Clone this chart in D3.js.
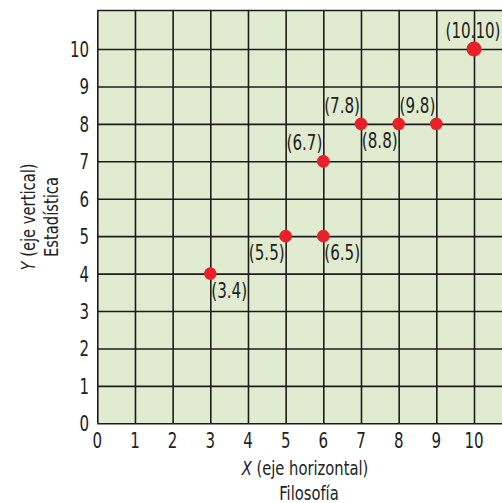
<!DOCTYPE html>
<html>
<head>
<meta charset="utf-8">
<script src="https://cdn.jsdelivr.net/npm/d3@7"></script>
<style>
  body { margin: 0; background: #fff; }
  svg text { font-family: "DejaVu Sans Condensed", "DejaVu Sans", sans-serif; fill: #222; }
</style>
</head>
<body>
<div id="chart"></div>
<script>
// data
var xValues = [3, 5, 6, 6, 7, 8, 9, 10];
var yValues = [4, 5, 5, 7, 8, 8, 8, 10];
var pointLabels = ["(3.4)", "(5.5)", "(6.5)", "(6.7)", "(7.8)", "(8.8)", "(9.8)", "(10.10)"];
// where each label sits relative to its dot: a = above, b = below; s = start, e = end, m = middle
var labelPlace = ["bs", "be", "bs", "ae", "ae", "be", "ae", "am"];
var xTicks = [0, 1, 2, 3, 4, 5, 6, 7, 8, 9, 10];
var yTicks = [0, 1, 2, 3, 4, 5, 6, 7, 8, 9, 10];

var width = 502, height = 503;

var svg = d3.select("#chart")
    .append("svg")
    .attr("width", width)
    .attr("height", height);

var x = d3.scaleLinear().domain([0, 10]).range([97.3, 474]);
var y = d3.scaleLinear().domain([0, 10]).range([423.3, 49]);

var plotLeft = x(0), plotRight = width, plotTop = 10.5, plotBottom = y(0);
var gridColor = "#1c1c1c";

// squeeze text horizontally, the reference uses a condensed face
function squeeze(tx, ty, sx, rot) {
    return "translate(" + tx + "," + ty + ")" + (rot ? " rotate(" + rot + ")" : "") + " scale(" + sx + ",1)";
}

// plot background
svg.append("rect")
    .attr("x", plotLeft)
    .attr("y", plotTop)
    .attr("width", plotRight - plotLeft)
    .attr("height", plotBottom - plotTop)
    .attr("fill", "#e1ebcf");

// vertical gridlines
svg.append("g")
    .attr("class", "grid")
    .attr("transform", "translate(0," + plotBottom + ")")
    .call(d3.axisBottom(x).tickValues(xTicks).tickSize(-(plotBottom - plotTop)).tickFormat(""))
    .call(function (g) { g.select(".domain").remove(); })
    .selectAll("line")
    .attr("stroke", gridColor)
    .attr("stroke-width", 1.6);

// horizontal gridlines
svg.append("g")
    .attr("class", "grid")
    .attr("transform", "translate(" + plotLeft + ",0)")
    .call(d3.axisLeft(y).tickValues(yTicks).tickSize(-(plotRight - plotLeft)).tickFormat(""))
    .call(function (g) { g.select(".domain").remove(); })
    .selectAll("line")
    .attr("stroke", gridColor)
    .attr("stroke-width", 1.6);

// top border
svg.append("line")
    .attr("x1", plotLeft).attr("x2", plotRight)
    .attr("y1", plotTop).attr("y2", plotTop)
    .attr("stroke", gridColor)
    .attr("stroke-width", 1.6);

// tick labels
svg.append("g")
    .selectAll("text")
    .data(xTicks)
    .enter().append("text")
    .attr("transform", function (d) { return squeeze(x(d), 448, 0.76); })
    .attr("text-anchor", "middle")
    .attr("font-size", 22)
    .text(function (d) { return d; });

svg.append("g")
    .selectAll("text")
    .data(yTicks)
    .enter().append("text")
    .attr("transform", function (d) { return squeeze(89, y(d) + 8, 0.76); })
    .attr("text-anchor", "end")
    .attr("font-size", 22)
    .text(function (d) { return d; });

// axis titles
var xTitle = svg.append("text")
    .attr("transform", squeeze(305, 475, 0.82))
    .attr("text-anchor", "middle")
    .attr("font-size", 20);
xTitle.append("tspan").attr("font-style", "italic").text("X");
xTitle.append("tspan").text(" (eje horizontal)");

svg.append("text")
    .attr("transform", squeeze(309, 500, 0.82))
    .attr("text-anchor", "middle")
    .attr("font-size", 20)
    .text("Filosofía");

var yTitle = svg.append("text")
    .attr("transform", squeeze(35, 217, 0.82, -90))
    .attr("text-anchor", "middle")
    .attr("font-size", 20);
yTitle.append("tspan").attr("font-style", "italic").text("Y");
yTitle.append("tspan").text(" (eje vertical)");

svg.append("text")
    .attr("transform", squeeze(58, 217, 0.82, -90))
    .attr("text-anchor", "middle")
    .attr("font-size", 20)
    .text("Estadística");

// points
var points = xValues.map(function (d, i) {
    return {x: d, y: yValues[i], label: pointLabels[i], place: labelPlace[i]};
});

svg.append("g")
    .selectAll("circle")
    .data(points)
    .enter().append("circle")
    .attr("cx", function (d) { return x(d.x); })
    .attr("cy", function (d) { return y(d.y); })
    .attr("r", function (d, i) { return i === points.length - 1 ? 7.5 : 6.3; })
    .attr("fill", "#e8202a");

svg.append("g")
    .selectAll("text")
    .data(points)
    .enter().append("text")
    .attr("transform", function (d) {
        var dx = d.place[1] === "s" ? 1 : d.place[1] === "e" ? -1 : -1;
        var dy = d.place[0] === "a" ? -11 : 24;
        return squeeze(x(d.x) + dx, y(d.y) + dy, 0.8);
    })
    .attr("text-anchor", function (d) {
        return d.place[1] === "s" ? "start" : d.place[1] === "e" ? "end" : "middle";
    })
    .attr("font-size", 21)
    .text(function (d) { return d.label; });
</script>
</body>
</html>
